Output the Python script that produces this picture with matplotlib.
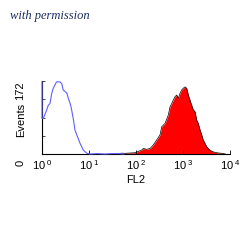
import numpy as np
import matplotlib
matplotlib.use('Agg')
import matplotlib.pyplot as plt
import matplotlib.transforms as mtransforms
from matplotlib.ticker import LogLocator, NullFormatter

plt.rcParams['font.family'] = 'Liberation Sans'
plt.rcParams['mathtext.fontset'] = 'custom'
plt.rcParams['mathtext.rm'] = 'Liberation Sans'

# control (blue outline) histogram, FL2 value vs events
ctrl_fl2 = [1.0, 1.0, 1.07, 1.26, 1.36, 1.48, 1.61, 1.74, 2.04, 2.40, 2.63, 2.82, 3.39,
            3.63, 3.98, 4.27, 4.68, 5.01, 5.50, 6.46, 7.59, 8.91, 10.5, 15, 22, 30, 42, 55]
ctrl_events = [170, 84, 84, 104, 115, 119, 143, 155, 170, 170, 166, 151, 143,
               131, 119, 104, 80, 57, 45, 25, 9, 2, 0, 1, 0, 1, 1, 0]

# stained sample (red filled) histogram
stain_fl2 = [30, 40, 50, 58.3, 95.3, 132, 143, 169, 199, 233, 275, 324, 352, 414, 487,
             529, 575, 622, 676, 735, 794, 863, 938, 1014, 1104, 1199, 1297, 1409,
             1531, 1656, 1799, 1955, 2118, 2301, 2500, 2704, 2938, 3192, 3750, 4414,
             5213, 6653, 8000]
stain_events = [0, 1, 2, 1.6, 3, 9.4, 13, 11, 13, 21, 33, 45, 64, 72, 92,
                111, 119, 127, 135, 139, 131, 143, 151, 155, 158, 155, 139, 127,
                115, 104, 100, 80, 72, 57, 45, 33, 25, 17, 9, 5,
                3, 1.6, 0]

ymax = 172
xticks = [1, 10, 100, 1000, 10000]
xticklabels = [r'$\mathregular{10^{\;%d}}$' % i for i in range(5)]

fig = plt.figure(figsize=(2.5, 2.5), dpi=100)
ax = fig.add_axes([0.168, 0.384, 0.752, 0.292])

ax.fill_between(stain_fl2, stain_events, 0, color='red', lw=0)
ax.plot(stain_fl2, stain_events, color='black', lw=0.5)
ax.plot(ctrl_fl2, ctrl_events, color='#5f5fff', lw=0.8, zorder=3, clip_on=False)

ax.set_xscale('log')
ax.set_xlim(1, 10000)
ax.set_ylim(0, ymax)
ax.spines['top'].set_visible(False)
ax.spines['right'].set_visible(False)
for s in ['left', 'bottom']:
    ax.spines[s].set_linewidth(0.8)

ax.set_xticks(xticks)
ax.set_xticklabels(xticklabels, fontsize=8)
ax.xaxis.set_minor_locator(LogLocator(base=10, subs=np.arange(2, 10)))
ax.xaxis.set_minor_formatter(NullFormatter())
ax.tick_params(axis='x', which='major', direction='in', length=3, width=0.6, pad=3)
ax.tick_params(axis='x', which='minor', direction='in', length=2, width=0.5)

ax.set_yticks([0, 43, 86, 129, 172])
ax.set_yticklabels(['0', '', '', '', '172'], fontsize=8, rotation=90)
ax.tick_params(axis='y', direction='in', length=2, width=0.5, pad=12)
for lab in ax.get_yticklabels():
    lab.set_va('top')
shift = mtransforms.ScaledTranslation(0, -6 / 100, fig.dpi_scale_trans)
ax.get_yticklabels()[0].set_transform(ax.get_yticklabels()[0].get_transform() + shift)

ax.set_xlabel('FL2', fontsize=8, labelpad=2)
ax.set_ylabel('Events', fontsize=8)
ax.yaxis.set_label_coords(-0.085, 0.47)

fig.text(0.04, 0.935, 'with permission', fontsize=9, family='Liberation Serif',
         style='italic', color='#1c2b5e', va='center')

fig.savefig('out.png', dpi=100)
